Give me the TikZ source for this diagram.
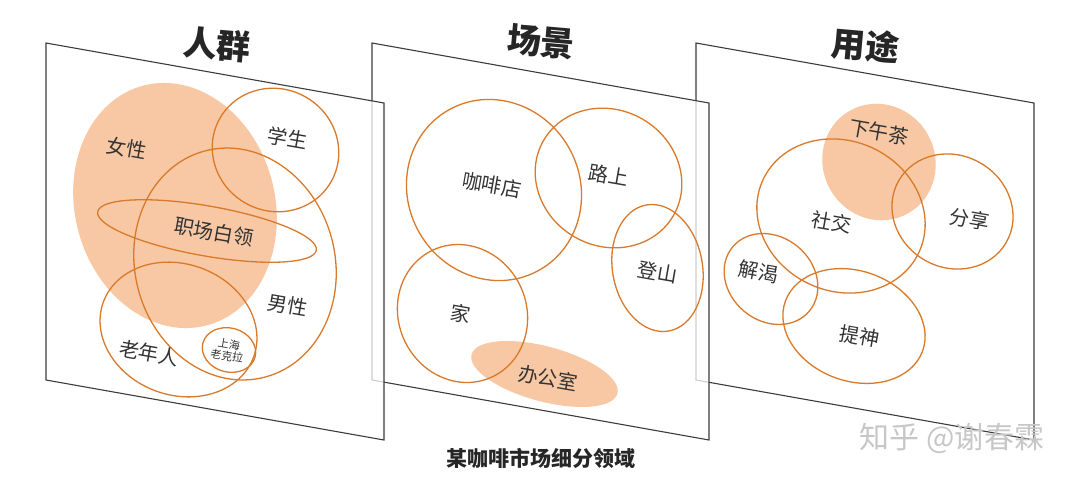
\documentclass[tikz,border=0pt]{standalone}
\usepackage{fontspec}
\setmainfont{Noto Sans CJK SC}
\usetikzlibrary{shapes.geometric}

\definecolor{segorange}{HTML}{D97A2B}
\definecolor{segpeach}{HTML}{F8C7A3}
\definecolor{ink}{HTML}{333333}
\definecolor{frame}{HTML}{3C3C3C}

\begin{document}
\begin{tikzpicture}[
    x=1pt,
    y=-1pt,
    panel/.style={draw=frame, line width=1.1pt, fill=white, fill opacity=0.75},
    seg/.style={ellipse, draw=segorange, line width=1.3pt, inner sep=0pt},
    segfill/.style={ellipse, fill=segpeach, inner sep=0pt},
    tag/.style={text=ink, inner sep=1pt, rotate=-10, font=\fontsize{20}{20}\selectfont},
    title/.style={text=black!85, rotate=-5, font=\fontsize{34}{34}\selectfont\bfseries},
]
    \useasboundingbox (0,0) rectangle (1080,483);

    \path[panel] (696,43) -- (1034,103) -- (1034,440) -- (696,380) -- cycle;

    \node[segfill, minimum width=112pt, minimum height=118pt, rotate=30]  (Tea)    at (879,162)     {};
    \node[seg,     minimum width=172pt, minimum height=150pt, rotate=-25] (Social) at (841,216)     {};
    \node[seg,     minimum width=124pt, minimum height=112pt, rotate=-30] (Share)  at (952.5,211.5) {};
    \node[seg,     minimum width=100pt, minimum height=84pt,  rotate=-40] (Thirst) at (771,279)     {};
    \node[seg,     minimum width=146pt, minimum height=110pt, rotate=-20] (Awake)  at (854,326)     {};

    \node[tag] (TeaT)    at (879,132) {下午茶};
    \node[tag] (SocialT) at (832,222) {社交};
    \node[tag] (ShareT)  at (970,219) {分享};
    \node[tag] (ThirstT) at (759,272) {解渴};
    \node[tag] (AwakeT)  at (860,336) {提神};

    \path[panel] (372,43) -- (709,103) -- (709,440) -- (372,380) -- cycle;

    \node[segfill, minimum width=151pt, minimum height=55pt,  rotate=-15] (Office) at (544.5,374)   {};
    \node[seg,     minimum width=172pt, minimum height=184pt, rotate=30]  (Cafe)   at (494,190)     {};
    \node[seg,     minimum width=150pt, minimum height=136pt, rotate=-30] (Road)   at (608.5,178)   {};
    \node[seg,     minimum width=90pt,  minimum height=128pt, rotate=10]  (Hike)   at (657.5,268)   {};
    \node[seg,     minimum width=128pt, minimum height=140pt, rotate=25]  (Home)   at (462.5,313.5) {};

    \node[tag] (CafeT)   at (492,185) {咖啡店};
    \node[tag] (RoadT)   at (609,175) {路上};
    \node[tag] (HikeT)   at (658,272) {登山};
    \node[tag] (HomeT)   at (461,314) {家};
    \node[tag] (OfficeT) at (548,378) {办公室};

    \path[panel] (46,43) -- (384,103) -- (384,440) -- (46,380) -- cycle;

    \node[segfill, minimum width=200pt, minimum height=248pt, rotate=15]  (Female)  at (175,205.5)   {};
    \node[seg,     minimum width=128pt, minimum height=122pt, rotate=-30] (Student) at (275.5,150)   {};
    \node[seg,     minimum width=200pt, minimum height=234pt, rotate=15]  (Male)    at (235,264)     {};
    \node[seg,     minimum width=222pt, minimum height=50pt,  rotate=-10] (Worker)  at (207,231)     {};
    \node[seg,     minimum width=160pt, minimum height=131pt, rotate=-20] (Elder)   at (178.5,329.5) {};
    \node[seg,     minimum width=54pt,  minimum height=44pt,  rotate=-15] (Klara)   at (229,350)     {};

    \node[tag] (FemaleT)  at (127,148) {女性};
    \node[tag] (StudentT) at (288,138) {学生};
    \node[tag] (WorkerT)  at (214,232) {职场白领};
    \node[tag] (MaleT)    at (288,305) {男性};
    \node[tag] (ElderT)   at (149,353) {老年人};
    \node[tag, align=center, inner sep=0pt, font=\fontsize{11}{12}\selectfont] (KlaraT) at (228,350) {上海\\老克拉};

    \node[title] (Crowd) at (217,45) {人群};
    \node[title] (Scene) at (541,42) {场景};
    \node[title] (Usage) at (866,45) {用途};

    \node[text=black!85, font=\fontsize{21}{21}\selectfont\bfseries] (Caption) at (541,458) {某咖啡市场细分领域};
    \node[text=black!22, font=\fontsize{30}{30}\selectfont] (Mark) at (952,438) {知乎 @谢春霖};
\end{tikzpicture}
\end{document}
